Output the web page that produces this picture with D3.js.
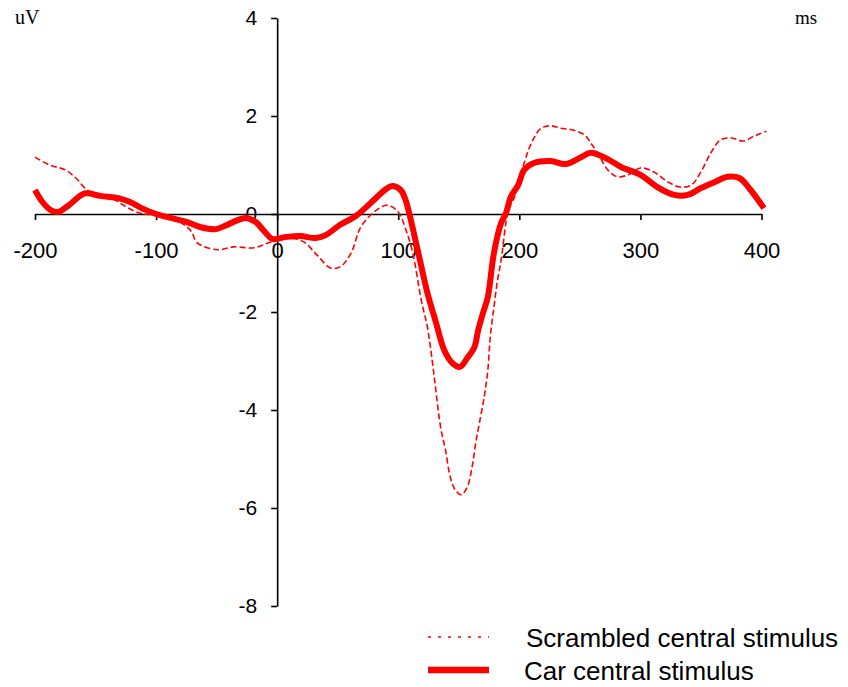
<!DOCTYPE html>
<html>
<head>
<meta charset="utf-8">
<script src="https://cdn.jsdelivr.net/npm/d3@7"></script>
<style>
  html, body { margin: 0; padding: 0; background: #fff; }
  svg { display: block; }
</style>
</head>
<body>
<svg id="chart" width="848" height="687"></svg>
<script>
// ERP waveforms: amplitude (uV) over time (ms)
const carTime = [-200,-194,-187,-181,-172,-159,-146,-129,-121,-112,-100,-88,-75,-63,-51,-43,-34,-26,-18,-10,-4,7,19,32,40,52,65,77,90,95,102,106,109,116,124,131,138,145,151,157,163,166,170,174,179,185,189,193,199,204,212,226,238,251,259,273,284,300,314,328,339,350,361,372,382,391,402];
const carValue = [0.49,0.25,0.08,0.04,0.18,0.42,0.37,0.31,0.24,0.12,0.0,-0.08,-0.16,-0.27,-0.31,-0.24,-0.14,-0.08,-0.16,-0.37,-0.51,-0.47,-0.45,-0.49,-0.43,-0.22,-0.04,0.22,0.51,0.57,0.49,0.29,0.02,-0.73,-1.6,-2.2,-2.78,-3.05,-3.12,-2.94,-2.71,-2.37,-2.02,-1.69,-0.8,-0.18,0.02,0.35,0.59,0.9,1.04,1.08,1.02,1.16,1.25,1.12,0.96,0.8,0.55,0.39,0.39,0.53,0.65,0.76,0.73,0.49,0.12];

const scrTime = [-200,-188,-175,-166,-157,-145,-135,-127,-118,-110,-100,-88,-78,-71,-66,-49,-36,-19,-5,11,22,33,44,52,61,69,80,91,100,106,112,119,124,128,131,135,139,143,147,152,157,161,164,167,171,174,176,179,182,185,191,196,204,210,218,226,234,245,254,259,267,273,281,290,300,311,323,333,342,350,358,366,375,385,394,404];
const scrValue = [1.16,1.0,0.9,0.73,0.49,0.37,0.3,0.18,0.06,0.0,-0.02,-0.08,-0.2,-0.35,-0.59,-0.73,-0.67,-0.69,-0.57,-0.49,-0.57,-0.84,-1.1,-1.08,-0.8,-0.27,0.04,0.18,0.04,-0.3,-0.8,-1.76,-2.3,-2.98,-3.59,-4.35,-4.82,-5.37,-5.63,-5.73,-5.57,-5.16,-4.67,-4.27,-3.73,-3.18,-2.51,-1.9,-1.35,-0.94,0.08,0.35,1.04,1.45,1.75,1.8,1.75,1.71,1.61,1.45,1.14,0.9,0.76,0.8,0.94,0.86,0.65,0.55,0.59,0.86,1.24,1.51,1.55,1.49,1.59,1.69];

const xTicks = [-200,-100,0,100,200,300,400];
const yTicks = [4,2,0,-2,-4,-6,-8];
const seriesNames = ["Scrambled central stimulus", "Car central stimulus"];
const unitY = "uV";
const unitX = "ms";

const svg = d3.select("#chart");
const sans = "'Liberation Sans', Arial, sans-serif";
const serif = "'Liberation Serif', 'Times New Roman', serif";
const red = "#ff0000";
const plain = d => String(d); // hyphen-minus rather than the unicode minus sign

const x = d3.scaleLinear().domain([-200, 400]).range([35, 761.5]);
const y = d3.scaleLinear().domain([-8, 4]).range([606, 18]);

// x axis along the zero line
const xAxis = svg.append("g")
  .attr("transform", `translate(0,${y(0)})`)
  .call(d3.axisBottom(x).tickValues(xTicks).tickFormat(plain)
    .tickSize(6).tickSizeOuter(0).tickPadding(22));
xAxis.attr("font-size", null);
xAxis.select(".domain").attr("stroke", "#000").attr("stroke-width", 1.6);
xAxis.selectAll(".tick line").attr("stroke", "#000").attr("stroke-width", 1.6);
xAxis.selectAll(".tick text")
  .attr("font-family", sans).attr("font-size", 22).attr("fill", "#000");

// y axis along time zero
const yAxis = svg.append("g")
  .attr("transform", `translate(${x(0)},0)`)
  .call(d3.axisLeft(y).tickValues(yTicks).tickFormat(plain)
    .tickSize(6).tickSizeOuter(0).tickPadding(14));
yAxis.attr("font-size", null);
yAxis.select(".domain").attr("stroke", "#000").attr("stroke-width", 1.6);
yAxis.selectAll(".tick line").attr("stroke", "#000").attr("stroke-width", 1.6);
yAxis.selectAll(".tick text")
  .attr("font-family", sans).attr("font-size", 21).attr("fill", "#000");

// unit labels
svg.append("text").attr("x", 15).attr("y", 24)
  .attr("font-family", serif).attr("font-size", 20).text(unitY);
svg.append("text").attr("x", 795).attr("y", 24)
  .attr("font-family", serif).attr("font-size", 19).text(unitX);

const line = d3.line()
  .x(d => x(d[0])).y(d => y(d[1]))
  .curve(d3.curveCatmullRom.alpha(0.5));

const scrData = scrTime.map((t, i) => [t, scrValue[i]]);
const carData = carTime.map((t, i) => [t, carValue[i]]);

svg.append("path").datum(scrData)
  .attr("d", line).attr("fill", "none")
  .attr("stroke", red).attr("stroke-width", 1.6)
  .attr("stroke-dasharray", "6,3");

svg.append("path").datum(carData)
  .attr("d", line).attr("fill", "none")
  .attr("stroke", red).attr("stroke-width", 6)
  .attr("stroke-linejoin", "round");

// legend
const legend = svg.append("g");
legend.append("line")
  .attr("x1", 428).attr("x2", 489).attr("y1", 637).attr("y2", 637)
  .attr("stroke", red).attr("stroke-width", 1.6).attr("stroke-dasharray", "3,7");
legend.append("text").attr("x", 526).attr("y", 647)
  .attr("font-family", sans).attr("font-size", 26).text(seriesNames[0]);
legend.append("line")
  .attr("x1", 428).attr("x2", 489).attr("y1", 670).attr("y2", 670)
  .attr("stroke", red).attr("stroke-width", 6.5);
legend.append("text").attr("x", 524).attr("y", 680)
  .attr("font-family", sans).attr("font-size", 26).text(seriesNames[1]);
</script>
</body>
</html>
